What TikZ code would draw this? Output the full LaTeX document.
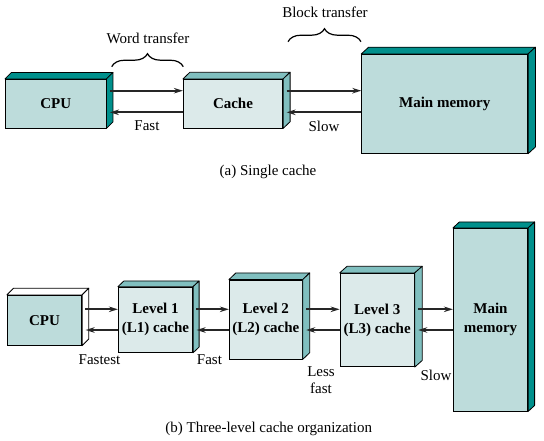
\documentclass[tikz,border=0pt]{standalone}
\usepackage{fontspec}
\setmainfont{Liberation Serif}
\usetikzlibrary{arrows.meta,decorations.pathreplacing}
\definecolor{darkteal}{HTML}{00908C}
\definecolor{frontA}{HTML}{BDDCDB}
\definecolor{frontB}{HTML}{DCEAEA}
\definecolor{midteal}{HTML}{80BFBF}
\newcommand\boxfaces[4]{%
  \filldraw[fill=#4,draw=black,line width=0.8pt,line join=round]
    (#1.north west) -- ++(#2,#3) -- ([shift={(#2,#3)}]#1.north east) -- (#1.north east) -- cycle;
  \filldraw[fill=#4,draw=black,line width=0.8pt,line join=round]
    (#1.north east) -- ++(#2,#3) -- ([shift={(#2,#3)}]#1.south east) -- (#1.south east) -- cycle;}
\begin{document}
\begin{tikzpicture}[x=1pt,y=-1pt,
  font=\fontsize{15}{19}\selectfont,
  front/.style={draw=black,line width=0.8pt,inner sep=0pt,align=center,font=\fontsize{15}{19}\selectfont\bfseries},
  arr/.style={line width=1.7pt,draw=black!85,-{Stealth[length=9pt,width=5.5pt]}},
  lbl/.style={inner sep=0pt,align=center},
  brc/.style={decorate,decoration={brace,amplitude=13pt},line width=1.2pt}]
\useasboundingbox (0,0) rectangle (544,440);
% ---------- (a) single cache ----------
\node[front,fill=frontA,minimum width=100.7pt,minimum height=48.7pt] (cpu) at (55.7,103.7) {CPU};
\boxfaces{cpu}{6.5}{-6.5}{darkteal}
\node[front,fill=frontB,minimum width=99.4pt,minimum height=48.7pt] (cache) at (233,103.7) {Cache};
\boxfaces{cache}{7}{-6.7}{midteal}
\node[front,fill=frontA,minimum width=166pt,minimum height=99pt] (mm) at (444.7,103.8) {Main memory};
\boxfaces{mm}{7.3}{-6.7}{darkteal}
\coordinate (tf) at (0,90.7);
\coordinate (tb) at (0,112.3);
\draw[arr] ([xshift=3.5pt]cpu.east |- tf) -- (cache.west |- tf);
\draw[arr] (cache.west |- tb) -- ([xshift=3.5pt]cpu.east |- tb);
\draw[arr] ([xshift=3.5pt]cache.east |- tf) -- (mm.west |- tf);
\draw[arr] (mm.west |- tb) -- ([xshift=3.5pt]cache.east |- tb);
\node[lbl] (fastA) at (147,126) {Fast};
\node[lbl] (slowA) at (324,126) {Slow};
\coordinate (wb1) at (111.7,66.7);
\coordinate (wb2) at (183.3,66.7);
\draw[brc] (wb1) -- (wb2);
\node[lbl] (wt) at (148,38) {Word transfer};
\coordinate (bb1) at (288,41.7);
\coordinate (bb2) at (361,41.7);
\draw[brc] (bb1) -- (bb2);
\node[lbl] (bt) at (325,12.3) {Block transfer};
\node[lbl] (capA) at (268,171.7) {(a) Single cache};
% ---------- (b) three-level ----------
\node[front,fill=frontA,minimum width=74.4pt,minimum height=50pt] (cpu2) at (44.5,320.3) {CPU};
\boxfaces{cpu2}{6.7}{-6.7}{white}
\node[front,fill=frontB,minimum width=74.4pt,minimum height=65.3pt] (l1) at (155.5,319.7) {Level 1\\(L1) cache};
\boxfaces{l1}{6}{-5.7}{midteal}
\node[front,fill=frontB,minimum width=73pt,minimum height=79pt] (l2) at (265.8,319.5) {Level 2\\(L2) cache};
\boxfaces{l2}{7}{-6.7}{midteal}
\node[front,fill=frontB,minimum width=74.3pt,minimum height=93.4pt] (l3) at (377.2,320) {Level 3\\(L3) cache};
\boxfaces{l3}{7.4}{-6.6}{midteal}
\node[front,fill=frontA,minimum width=74.4pt,minimum height=182.7pt] (mm2) at (490.5,319.7) {Main\\memory};
\boxfaces{mm2}{6.5}{-6}{darkteal}
\coordinate (bf) at (0,309.3);
\coordinate (bw) at (0,330);
\draw[arr] ([xshift=3pt]cpu2.east |- bf) -- (l1.west |- bf);
\draw[arr] (l1.west |- bw) -- ([xshift=3.5pt]cpu2.east |- bw);
\draw[arr] ([xshift=3pt]l1.east |- bf) -- (l2.west |- bf);
\draw[arr] (l2.west |- bw) -- ([xshift=3.5pt]l1.east |- bw);
\draw[arr] ([xshift=3.5pt]l2.east |- bf) -- (l3.west |- bf);
\draw[arr] (l3.west |- bw) -- ([xshift=3.5pt]l2.east |- bw);
\draw[arr] ([xshift=3.5pt]l3.east |- bf) -- (mm2.west |- bf);
\draw[arr] (mm2.west |- bw) -- ([xshift=3.5pt]l3.east |- bw);
\node[lbl] (fastest) at (99.5,360) {Fastest};
\node[lbl] (fastB) at (209.5,360) {Fast};
\node[lbl,font=\fontsize{15}{16.6}\selectfont] (lessfast) at (321,380) {Less\\fast};
\node[lbl] (slowB) at (436,375) {Slow};
\node[lbl] (capB) at (268.7,429.3) {(b) Three-level cache organization};
\end{tikzpicture}
\end{document}
